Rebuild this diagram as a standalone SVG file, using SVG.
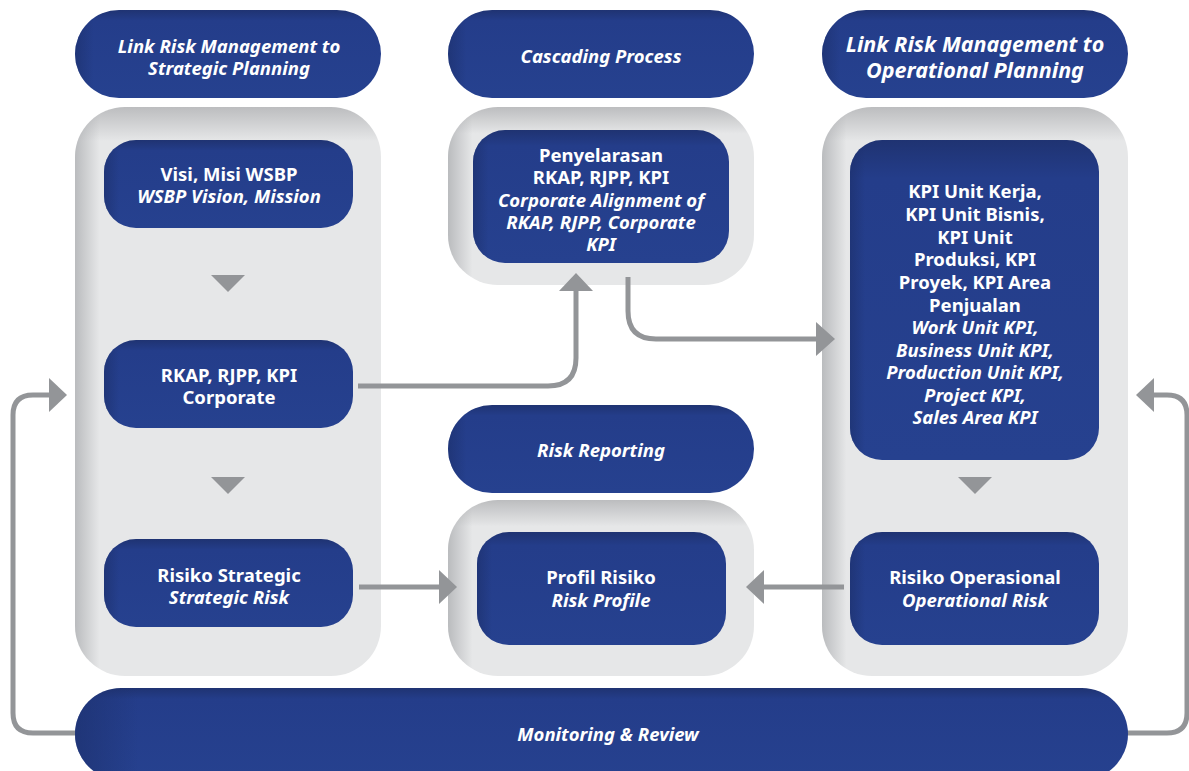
<svg xmlns="http://www.w3.org/2000/svg" width="1189" height="771" viewBox="0 0 1189 771">
<defs>
<linearGradient id="bv" x1="0" y1="0" x2="0" y2="1">
<stop offset="0" stop-color="#1f3372"/>
<stop offset="0.12" stop-color="#243d8a"/>
<stop offset="1" stop-color="#26418f"/>
</linearGradient>
<linearGradient id="bh" x1="0" y1="0" x2="1" y2="0">
<stop offset="0" stop-color="#1c2f6a" stop-opacity="0.6"/>
<stop offset="0.06" stop-color="#1c2f6a" stop-opacity="0"/>
<stop offset="1" stop-color="#1c2f6a" stop-opacity="0"/>
</linearGradient>
<linearGradient id="gv" x1="0" y1="0" x2="0" y2="1">
<stop offset="0" stop-color="#bcbdbf"/>
<stop offset="0.06" stop-color="#e6e7e8"/>
<stop offset="1" stop-color="#e6e7e8"/>
</linearGradient>
<linearGradient id="gvs" x1="0" y1="0" x2="0" y2="1">
<stop offset="0" stop-color="#bcbdbf"/>
<stop offset="0.15" stop-color="#e6e7e8"/>
<stop offset="1" stop-color="#e6e7e8"/>
</linearGradient>
<linearGradient id="gh" x1="0" y1="0" x2="1" y2="0">
<stop offset="0" stop-color="#a7a9ac" stop-opacity="0.7"/>
<stop offset="0.08" stop-color="#a7a9ac" stop-opacity="0"/>
<stop offset="1" stop-color="#a7a9ac" stop-opacity="0"/>
</linearGradient>
</defs>
<style>
.t{font-family:"Noto Sans","Open Sans",sans-serif;font-weight:700;fill:#ffffff;text-anchor:middle;font-size:18.5px}
.i{font-style:italic}
.big{font-size:21.5px}
.ln{fill:none;stroke:#939598;stroke-width:5}
.ah{fill:#939598}
</style>
<rect width="1189" height="771" fill="#ffffff"/>

<g id="panel-left">
<rect x="75" y="107" width="306" height="569" rx="50" fill="url(#gv)"/>
<rect x="75" y="107" width="306" height="569" rx="50" fill="url(#gh)"/>
</g>
<g id="panel-mid-top">
<rect x="448" y="107" width="306" height="178" rx="50" fill="url(#gvs)"/>
<rect x="448" y="107" width="306" height="178" rx="50" fill="url(#gh)"/>
</g>
<g id="panel-mid-bottom">
<rect x="448" y="500" width="306" height="176" rx="50" fill="url(#gvs)"/>
<rect x="448" y="500" width="306" height="176" rx="50" fill="url(#gh)"/>
</g>
<g id="panel-right">
<rect x="822" y="107" width="306" height="569" rx="50" fill="url(#gv)"/>
<rect x="822" y="107" width="306" height="569" rx="50" fill="url(#gh)"/>
</g>

<g id="connectors">
<path class="ln" d="M358 386 H548 Q576 386 576 358 V290"/>
<polygon class="ah" points="559,291 593,291 576,273"/>
<path class="ln" d="M628 277 V311 Q628 339 656 339 H816"/>
<polygon class="ah" points="816,322 816,356 835,339"/>
<path class="ln" d="M359 587 H440"/>
<polygon class="ah" points="439,570 439,604 457,587"/>
<path class="ln" d="M844 587 H763"/>
<polygon class="ah" points="764,570 764,604 746,587"/>
<path class="ln" d="M80 733 H33 Q13 733 13 713 V415 Q13 395 33 395 H50"/>
<polygon class="ah" points="49,378 49,412 67,395"/>
<path class="ln" d="M1124 733 H1167 Q1187 733 1187 713 V415 Q1187 395 1167 395 H1153"/>
<polygon class="ah" points="1154,378 1154,412 1136,395"/>
<polygon class="ah" points="211,275 245,275 228,292"/>
<polygon class="ah" points="211,477 245,477 228,494"/>
<polygon class="ah" points="958,477 992,477 975,494"/>
</g>

<g id="hdr-left">
<rect x="75" y="10" width="306" height="88" rx="44" fill="url(#bv)"/>
<rect x="75" y="10" width="306" height="88" rx="44" fill="url(#bh)"/>
<text class="t i" x="229" y="53">Link Risk Management to</text>
<text class="t i" x="229" y="75">Strategic Planning</text>
</g>
<g id="hdr-mid">
<rect x="448" y="10" width="306" height="88" rx="44" fill="url(#bv)"/>
<rect x="448" y="10" width="306" height="88" rx="44" fill="url(#bh)"/>
<text class="t i" x="601" y="63">Cascading Process</text>
</g>
<g id="hdr-right">
<rect x="822" y="10" width="306" height="88" rx="44" fill="url(#bv)"/>
<rect x="822" y="10" width="306" height="88" rx="44" fill="url(#bh)"/>
<text class="t i big" x="975" y="52">Link Risk Management to</text>
<text class="t i big" x="975" y="78">Operational Planning</text>
</g>

<g id="visi">
<rect x="104" y="140" width="249" height="88" rx="32" fill="url(#bv)"/>
<rect x="104" y="140" width="249" height="88" rx="32" fill="url(#bh)"/>
<text class="t" x="229" y="181">Visi, Misi WSBP</text>
<text class="t i" x="229" y="203">WSBP Vision, Mission</text>
</g>
<g id="rkap">
<rect x="104" y="340" width="249" height="88" rx="32" fill="url(#bv)"/>
<rect x="104" y="340" width="249" height="88" rx="32" fill="url(#bh)"/>
<text class="t" x="229" y="382">RKAP, RJPP, KPI</text>
<text class="t" x="229" y="404">Corporate</text>
</g>
<g id="risiko-strategic">
<rect x="104" y="539" width="249" height="88" rx="32" fill="url(#bv)"/>
<rect x="104" y="539" width="249" height="88" rx="32" fill="url(#bh)"/>
<text class="t" x="229" y="582">Risiko Strategic</text>
<text class="t i" x="229" y="604">Strategic Risk</text>
</g>

<g id="penyelarasan">
<rect x="473" y="130" width="256" height="133" rx="32" fill="url(#bv)"/>
<rect x="473" y="130" width="256" height="133" rx="32" fill="url(#bh)"/>
<text class="t" x="601" y="162">Penyelarasan</text>
<text class="t" x="601" y="184">RKAP, RJPP, KPI</text>
<text class="t i" x="601" y="207">Corporate Alignment of</text>
<text class="t i" x="601" y="229">RKAP, RJPP, Corporate</text>
<text class="t i" x="601" y="251">KPI</text>
</g>

<g id="risk-reporting">
<rect x="448" y="405" width="306" height="88" rx="44" fill="url(#bv)"/>
<rect x="448" y="405" width="306" height="88" rx="44" fill="url(#bh)"/>
<text class="t i" x="601" y="457">Risk Reporting</text>
</g>

<g id="profil">
<rect x="477" y="532" width="249" height="113" rx="32" fill="url(#bv)"/>
<rect x="477" y="532" width="249" height="113" rx="32" fill="url(#bh)"/>
<text class="t" x="601" y="584">Profil Risiko</text>
<text class="t i" x="601" y="607">Risk Profile</text>
</g>

<g id="kpi">
<rect x="850" y="140" width="249" height="320" rx="32" fill="url(#bv)"/>
<rect x="850" y="140" width="249" height="320" rx="32" fill="url(#bh)"/>
<text class="t" x="975" y="198">KPI Unit Kerja,</text>
<text class="t" x="975" y="221">KPI Unit Bisnis,</text>
<text class="t" x="975" y="244">KPI Unit</text>
<text class="t" x="975" y="266">Produksi, KPI</text>
<text class="t" x="975" y="289">Proyek, KPI Area</text>
<text class="t" x="975" y="312">Penjualan</text>
<text class="t i" x="975" y="334">Work Unit KPI,</text>
<text class="t i" x="975" y="357">Business Unit KPI,</text>
<text class="t i" x="975" y="379">Production Unit KPI,</text>
<text class="t i" x="975" y="402">Project KPI,</text>
<text class="t i" x="975" y="424">Sales Area KPI</text>
</g>

<g id="risiko-operasional">
<rect x="850" y="532" width="249" height="113" rx="32" fill="url(#bv)"/>
<rect x="850" y="532" width="249" height="113" rx="32" fill="url(#bh)"/>
<text class="t" x="975" y="584">Risiko Operasional</text>
<text class="t i" x="975" y="607">Operational Risk</text>
</g>

<g id="monitoring">
<rect x="75" y="688" width="1053" height="92" rx="46" fill="url(#bv)"/>
<rect x="75" y="688" width="1053" height="92" rx="46" fill="url(#bh)"/>
<text class="t i" x="608" y="741">Monitoring &amp; Review</text>
</g>
</svg>
